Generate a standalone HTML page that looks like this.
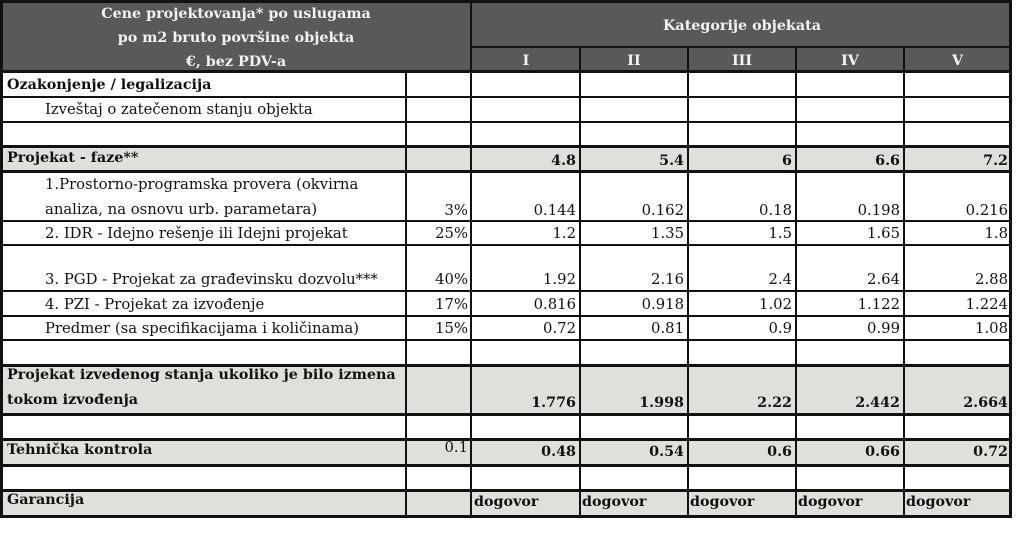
<!DOCTYPE html>
<html><head><meta charset="utf-8">
<style>
html,body{margin:0;padding:0;background:#fff;}
#c{position:relative;width:1024px;height:538px;overflow:hidden;background:#fff;font-family:"DejaVu Serif","Liberation Serif",serif;color:#111;}
.bg{position:absolute;}
.h{position:absolute;background:#111;}
.t{position:absolute;white-space:nowrap;line-height:20px;height:20px;font-size:14.8px;}
.b{font-weight:bold;font-size:14.3px;}
.w{color:#f2f2f2;font-weight:bold;font-size:14.3px;}
.r{text-align:right;}
.ctr{text-align:center;}
</style></head><body>
<div id="c">
<!-- backgrounds -->
<div class="bg" style="left:0;top:0;width:1012px;height:72px;background:#595959"></div>
<div class="bg" style="left:0;top:147px;width:1012px;height:25px;background:#e0dfdb"></div>
<div class="bg" style="left:0;top:366px;width:1012px;height:49px;background:#e0dfdb"></div>
<div class="bg" style="left:0;top:440px;width:1012px;height:26px;background:#e0dfdb"></div>
<div class="bg" style="left:0;top:491px;width:1012px;height:26px;background:#e0dfdb"></div>

<!-- horizontal lines -->
<div class="h" style="left:0;top:0;width:1012px;height:3px"></div>
<div class="h" style="left:470px;top:46px;width:542px;height:2px"></div>
<div class="h" style="left:0;top:70px;width:1012px;height:3px"></div>
<div class="h" style="left:0;top:96px;width:1012px;height:2px"></div>
<div class="h" style="left:0;top:121px;width:1012px;height:2px"></div>
<div class="h" style="left:0;top:145px;width:1012px;height:3px"></div>
<div class="h" style="left:0;top:170px;width:1012px;height:3px"></div>
<div class="h" style="left:0;top:220px;width:1012px;height:2px"></div>
<div class="h" style="left:0;top:244px;width:1012px;height:2px"></div>
<div class="h" style="left:0;top:290px;width:1012px;height:2px"></div>
<div class="h" style="left:0;top:315px;width:1012px;height:2px"></div>
<div class="h" style="left:0;top:339px;width:1012px;height:2px"></div>
<div class="h" style="left:0;top:364px;width:1012px;height:3px"></div>
<div class="h" style="left:0;top:413px;width:1012px;height:3px"></div>
<div class="h" style="left:0;top:438px;width:1012px;height:3px"></div>
<div class="h" style="left:0;top:464px;width:1012px;height:3px"></div>
<div class="h" style="left:0;top:489px;width:1012px;height:3px"></div>
<div class="h" style="left:0;top:515px;width:1012px;height:3px"></div>

<!-- vertical lines -->
<div class="h" style="left:0;top:0;width:3px;height:518px"></div>
<div class="h" style="left:1009px;top:0;width:3px;height:518px"></div>
<div class="h" style="left:470px;top:0;width:2px;height:518px"></div>
<div class="h" style="left:405px;top:72px;width:2px;height:446px"></div>
<div class="h" style="left:579px;top:47px;width:2px;height:471px"></div>
<div class="h" style="left:687px;top:47px;width:2px;height:471px"></div>
<div class="h" style="left:795px;top:47px;width:2px;height:471px"></div>
<div class="h" style="left:903px;top:47px;width:2px;height:471px"></div>

<!-- header text -->
<div class="t w ctr" style="left:0;width:472px;top:4px">Cene projektovanja* po uslugama</div>
<div class="t w ctr" style="left:0;width:472px;top:28px">po m2 bruto površine objekta</div>
<div class="t w ctr" style="left:0;width:472px;top:52px">€, bez PDV-a</div>
<div class="t w ctr" style="left:472px;width:540px;top:16px">Kategorije objekata</div>
<div class="t w ctr" style="left:472px;width:108px;top:51px">I</div>
<div class="t w ctr" style="left:580px;width:108px;top:51px">II</div>
<div class="t w ctr" style="left:688px;width:108px;top:51px">III</div>
<div class="t w ctr" style="left:796px;width:108px;top:51px">IV</div>
<div class="t w ctr" style="left:904px;width:107px;top:51px">V</div>

<!-- body labels -->
<div class="t b" style="left:7px;top:75px">Ozakonjenje / legalizacija</div>
<div class="t" style="left:45px;top:100px">Izveštaj o zatečenom stanju objekta</div>
<div class="t b" style="left:7px;top:148px">Projekat - faze**</div>
<div class="t" style="left:45px;top:175px">1.Prostorno-programska provera (okvirna</div>
<div class="t" style="left:45px;top:200px">analiza, na osnovu urb. parametara)</div>
<div class="t" style="left:45px;top:224px">2. IDR - Idejno rešenje ili Idejni projekat</div>
<div class="t" style="left:45px;top:270px">3. PGD - Projekat za građevinsku dozvolu***</div>
<div class="t" style="left:45px;top:295px">4. PZI - Projekat za izvođenje</div>
<div class="t" style="left:45px;top:319px">Predmer (sa specifikacijama i količinama)</div>
<div class="t b" style="left:7px;top:365px">Projekat izvedenog stanja ukoliko je bilo izmena</div>
<div class="t b" style="left:7px;top:390px">tokom izvođenja</div>
<div class="t b" style="left:7px;top:440px">Tehnička kontrola</div>
<div class="t b" style="left:7px;top:490px">Garancija</div>

<!-- percent column -->
<div class="t r" style="right:556px;top:201px">3%</div>
<div class="t r" style="right:556px;top:224px">25%</div>
<div class="t r" style="right:556px;top:270px">40%</div>
<div class="t r" style="right:556px;top:295px">17%</div>
<div class="t r" style="right:556px;top:319px">15%</div>
<div class="t r" style="right:556px;top:438px">0.1</div>

<!-- Projekat - faze values -->
<div class="t b r" style="right:448px;top:151px">4.8</div>
<div class="t b r" style="right:340px;top:151px">5.4</div>
<div class="t b r" style="right:232px;top:151px">6</div>
<div class="t b r" style="right:124px;top:151px">6.6</div>
<div class="t b r" style="right:16px;top:151px">7.2</div>

<!-- row 1 -->
<div class="t r" style="right:448px;top:201px">0.144</div>
<div class="t r" style="right:340px;top:201px">0.162</div>
<div class="t r" style="right:232px;top:201px">0.18</div>
<div class="t r" style="right:124px;top:201px">0.198</div>
<div class="t r" style="right:16px;top:201px">0.216</div>
<!-- IDR -->
<div class="t r" style="right:448px;top:224px">1.2</div>
<div class="t r" style="right:340px;top:224px">1.35</div>
<div class="t r" style="right:232px;top:224px">1.5</div>
<div class="t r" style="right:124px;top:224px">1.65</div>
<div class="t r" style="right:16px;top:224px">1.8</div>
<!-- PGD -->
<div class="t r" style="right:448px;top:270px">1.92</div>
<div class="t r" style="right:340px;top:270px">2.16</div>
<div class="t r" style="right:232px;top:270px">2.4</div>
<div class="t r" style="right:124px;top:270px">2.64</div>
<div class="t r" style="right:16px;top:270px">2.88</div>
<!-- PZI -->
<div class="t r" style="right:448px;top:295px">0.816</div>
<div class="t r" style="right:340px;top:295px">0.918</div>
<div class="t r" style="right:232px;top:295px">1.02</div>
<div class="t r" style="right:124px;top:295px">1.122</div>
<div class="t r" style="right:16px;top:295px">1.224</div>
<!-- Predmer -->
<div class="t r" style="right:448px;top:319px">0.72</div>
<div class="t r" style="right:340px;top:319px">0.81</div>
<div class="t r" style="right:232px;top:319px">0.9</div>
<div class="t r" style="right:124px;top:319px">0.99</div>
<div class="t r" style="right:16px;top:319px">1.08</div>
<!-- Projekat izvedenog -->
<div class="t b r" style="right:448px;top:393px">1.776</div>
<div class="t b r" style="right:340px;top:393px">1.998</div>
<div class="t b r" style="right:232px;top:393px">2.22</div>
<div class="t b r" style="right:124px;top:393px">2.442</div>
<div class="t b r" style="right:16px;top:393px">2.664</div>
<!-- Tehnicka -->
<div class="t b r" style="right:448px;top:442px">0.48</div>
<div class="t b r" style="right:340px;top:442px">0.54</div>
<div class="t b r" style="right:232px;top:442px">0.6</div>
<div class="t b r" style="right:124px;top:442px">0.66</div>
<div class="t b r" style="right:16px;top:442px">0.72</div>
<!-- Garancija -->
<div class="t b" style="left:474px;top:492px">dogovor</div>
<div class="t b" style="left:582px;top:492px">dogovor</div>
<div class="t b" style="left:690px;top:492px">dogovor</div>
<div class="t b" style="left:798px;top:492px">dogovor</div>
<div class="t b" style="left:906px;top:492px">dogovor</div>
</div>
</body></html>
